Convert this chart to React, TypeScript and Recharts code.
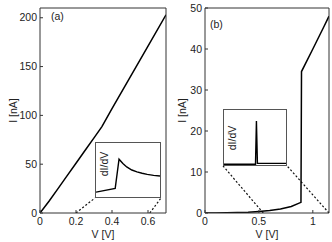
import { Line, LineChart, XAxis, YAxis } from "recharts";

// panel (a): I-V curve
const voltageA = [0, 0.05, 0.1, 0.15, 0.2, 0.25, 0.3, 0.344, 0.4, 0.5, 0.6, 0.7];
const currentA = [0, 12, 25, 38, 51, 64, 77, 88.5, 107, 139, 171, 203];
const ticksVA = [0, 0.2, 0.4, 0.6];
const ticksIA = [0, 50, 100, 150, 200];
// zoom guide lines (a): from the V axis to the inset's lower corners
const linkA1V = [0.2, 0.305];
const linkA1I = [0, 15.3];
const linkA2V = [0.61, 0.672];
const linkA2I = [0, 15.3];
// inset (a): dI/dV, arbitrary units
const insetAX = [0, 0.3, 0.36, 0.42, 0.48, 0.56, 0.64, 0.72, 0.8, 0.9, 1.0];
const insetAY = [0.09, 0.16, 0.7, 0.62, 0.556, 0.5, 0.464, 0.44, 0.42, 0.4, 0.39];

// panel (b)
const voltageB = [0, 0.1, 0.2, 0.3, 0.4, 0.5, 0.6, 0.7, 0.8, 0.89, 0.895, 1.0, 1.1, 1.15];
const currentB = [0, 0.02, 0.05, 0.1, 0.2, 0.38, 0.6, 1.0, 1.6, 2.6, 34.5, 40.0, 45.3, 48];
const ticksVB = [0, 0.5, 1];
const ticksIB = [0, 10, 20, 30, 40, 50];
const linkB1V = [0.54, 0.167];
const linkB1I = [0, 11.5];
const linkB2V = [1.15, 0.76];
const linkB2I = [0, 11.5];
const insetBX = [0, 0.508, 0.523, 0.539, 1.0];
const insetBY = [0.015, 0.015, 0.8, 0.03, 0.03];

const zip = (xs: number[], ys: number[]) => xs.map((v, k) => ({ v, i: ys[k] }));

const FONT = "'Liberation Sans', Arial, sans-serif";
const INK = "#222";
const FRAME = "#333";
const tickStyle = { fill: INK, fontSize: 10.5, fontFamily: FONT };

type PanelProps = {
  left: number;
  width: number;
  yAxisWidth: number;
  marginRight: number;
  vDomain: [number, number];
  iDomain: [number, number];
  vTicks: number[];
  iTicks: number[];
  curve: { v: number; i: number }[];
  links: { v: number; i: number }[][];
  yLabelOffset: number;
};

function Panel(p: PanelProps) {
  return (
    <div style={{ position: "absolute", left: p.left, top: 0 }}>
      <LineChart width={p.width} height={242} margin={{ top: 7, right: p.marginRight, bottom: 0, left: 0 }}>
        <XAxis
          xAxisId="b"
          dataKey="v"
          type="number"
          domain={p.vDomain}
          ticks={p.vTicks}
          interval={0}
          allowDataOverflow
          height={29}
          tickSize={-3}
          tickMargin={8}
          tick={tickStyle}
          axisLine={{ stroke: FRAME }}
          tickLine={{ stroke: FRAME }}
          label={{ value: "V [V]", position: "insideBottom", offset: 4, fill: INK, fontSize: 10.5, fontFamily: FONT }}
        />
        <XAxis
          xAxisId="t"
          orientation="top"
          type="number"
          domain={p.vDomain}
          ticks={p.vTicks}
          interval={0}
          allowDataOverflow
          height={1}
          tickSize={-3}
          tick={false}
          axisLine={{ stroke: FRAME }}
          tickLine={{ stroke: FRAME }}
        />
        <YAxis
          yAxisId="l"
          type="number"
          domain={p.iDomain}
          ticks={p.iTicks}
          interval={0}
          allowDataOverflow
          width={p.yAxisWidth}
          tickSize={-3}
          tickMargin={6}
          tick={tickStyle}
          axisLine={{ stroke: FRAME }}
          tickLine={{ stroke: FRAME }}
          label={{
            value: "I [nA]",
            angle: -90,
            position: "insideLeft",
            offset: p.yLabelOffset,
            fill: INK,
            fontSize: 10.5,
            fontFamily: FONT,
            style: { textAnchor: "middle" },
          }}
        />
        <YAxis
          yAxisId="r"
          orientation="right"
          type="number"
          domain={p.iDomain}
          ticks={p.iTicks}
          interval={0}
          allowDataOverflow
          width={1}
          tickSize={-3}
          tick={false}
          axisLine={{ stroke: FRAME }}
          tickLine={{ stroke: FRAME }}
        />
        {p.links.map((d, k) => (
          <Line
            key={k}
            xAxisId="b"
            yAxisId="l"
            data={d}
            dataKey="i"
            stroke="#111"
            strokeWidth={1.2}
            strokeDasharray="2 2"
            dot={false}
            isAnimationActive={false}
          />
        ))}
        <Line
          xAxisId="b"
          yAxisId="l"
          data={p.curve}
          dataKey="i"
          type="linear"
          stroke="#000"
          strokeWidth={1.5}
          dot={false}
          isAnimationActive={false}
        />
      </LineChart>
    </div>
  );
}

type InsetProps = {
  left: number;
  top: number;
  width: number;
  height: number;
  labelY: number;
  data: { v: number; i: number }[];
};

function Inset({ left, top, width, height, labelY, data }: InsetProps) {
  return (
    <div
      style={{
        position: "absolute",
        left,
        top,
        width,
        height,
        boxSizing: "border-box",
        border: "1px solid #555",
        background: "#fff",
      }}
    >
      <LineChart width={width - 2} height={height - 2} margin={{ top: 0, right: 0, bottom: 0, left: 0 }}>
        <XAxis dataKey="v" type="number" domain={[0, 1]} hide />
        <YAxis type="number" domain={[0, 1]} hide />
        <Line data={data} dataKey="i" stroke="#000" strokeWidth={1.4} dot={false} isAnimationActive={false} />
      </LineChart>
      <div
        style={{
          position: "absolute",
          left: 8,
          top: labelY,
          transform: "translate(-50%, -50%) rotate(-90deg)",
          fontFamily: FONT,
          fontSize: 10.5,
          color: INK,
          whiteSpace: "nowrap",
        }}
      >
        dI/dV
      </div>
    </div>
  );
}

const panelTag = { position: "absolute" as const, fontFamily: FONT, fontSize: 10.5, color: INK, lineHeight: "12px" };

export default function App() {
  return (
    <div style={{ position: "absolute", left: 0, top: 0, width: 332, height: 242, background: "#fff", overflow: "hidden" }}>
      <Panel
        left={0}
        width={170}
        yAxisWidth={40}
        marginRight={3}
        vDomain={[0, 0.7]}
        iDomain={[0, 210]}
        vTicks={ticksVA}
        iTicks={ticksIA}
        curve={zip(voltageA, currentA)}
        links={[zip(linkA1V, linkA1I), zip(linkA2V, linkA2I)]}
        yLabelOffset={13}
      />
      <Panel
        left={166}
        width={166}
        yAxisWidth={39}
        marginRight={2}
        vDomain={[0, 1.15]}
        iDomain={[0, 50]}
        vTicks={ticksVB}
        iTicks={ticksIB}
        curve={zip(voltageB, currentB)}
        links={[zip(linkB1V, linkB1I), zip(linkB2V, linkB2I)]}
        yLabelOffset={16}
      />
      <Inset left={95} top={142} width={66} height={56} labelY={21} data={zip(insetAX, insetAY)} />
      <Inset left={223} top={109} width={64} height={57} labelY={28} data={zip(insetBX, insetBY)} />
      <div style={{ ...panelTag, left: 51, top: 10 }}>(a)</div>
      <div style={{ ...panelTag, left: 210, top: 18 }}>(b)</div>
    </div>
  );
}
